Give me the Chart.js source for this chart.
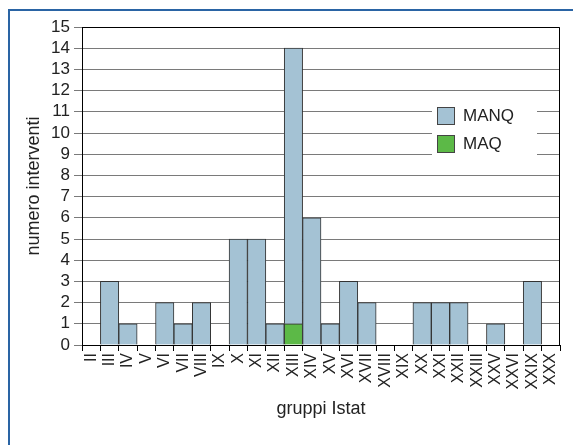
<!DOCTYPE html>
<html>
<head>
<meta charset="utf-8">
<script src="https://cdn.jsdelivr.net/npm/chart.js@4.4.1/dist/chart.umd.min.js"></script>
<style>
  html, body { margin: 0; padding: 0; background: #fff; }
  #wrap { position: relative; width: 573px; height: 445px; overflow: hidden; }
  #frame { position: absolute; left: 8px; top: 9px; width: 700px; height: 600px;
           border-left: 2px solid #2a64a4; border-top: 2px solid #2a64a4; }
  canvas { position: absolute; left: 0; top: 0; }
</style>
</head>
<body>
<div id="wrap">
  <div id="frame"></div>
  <canvas id="istatChart" width="573" height="445"></canvas>
</div>
<script>
// Istat groups on the x axis
const categories = ['II', 'III', 'IV', 'V', 'VI', 'VII', 'VIII', 'IX', 'X', 'XI', 'XII', 'XIII', 'XIV',
  'XV', 'XVI', 'XVII', 'XVIII', 'XIX', 'XX', 'XXI', 'XXII', 'XXIII', 'XXV', 'XXVI', 'XXIX', 'XXX'];

// number of interventions per series
const manq = [0, 3, 1, 0, 2, 1, 2, 0, 5, 5, 1, 13, 6, 1, 3, 2, 0, 0, 2, 2, 2, 0, 1, 0, 3, 0];
const maq  = [0, 0, 0, 0, 0, 0, 0, 0, 0, 0, 0, 1, 0, 0, 0, 0, 0, 0, 0, 0, 0, 0, 0, 0, 0, 0];

Chart.defaults.font.family = '"Liberation Sans", Arial, sans-serif';
Chart.defaults.color = '#222';

// legend drawn inside the plot, on a white patch over the grid
const insideLegend = {
  id: 'insideLegend',
  afterDatasetsDraw(chart) {
    const { ctx, chartArea } = chart;
    const x = chartArea.right - 128;
    const y = chartArea.top + 73;
    ctx.save();
    ctx.fillStyle = '#fff';
    ctx.fillRect(x, y, 105, 60);
    const items = chart.data.datasets.slice().reverse();
    items.forEach((ds, i) => {
      const by = y + 7 + i * 28;
      ctx.fillStyle = ds.backgroundColor;
      ctx.fillRect(x + 5, by, 17, 17);
      ctx.strokeStyle = '#444';
      ctx.lineWidth = 1;
      ctx.strokeRect(x + 5.5, by + 0.5, 17, 17);
      ctx.fillStyle = '#222';
      ctx.font = '17px "Liberation Sans", Arial, sans-serif';
      ctx.textBaseline = 'middle';
      ctx.fillText(ds.label, x + 31, by + 9);
    });
    ctx.restore();
  }
};

// black frame on top and right of the plot
const plotFrame = {
  id: 'plotFrame',
  beforeDatasetsDraw(chart) {
    const { ctx, chartArea } = chart;
    ctx.save();
    ctx.strokeStyle = '#000';
    ctx.lineWidth = 1;
    ctx.beginPath();
    ctx.moveTo(chartArea.left, chartArea.top + 0.5);
    ctx.lineTo(chartArea.right - 0.5, chartArea.top + 0.5);
    ctx.lineTo(chartArea.right - 0.5, chartArea.bottom);
    ctx.stroke();
    ctx.restore();
  }
};

const ctx = document.getElementById('istatChart').getContext('2d');

const istatChart = new Chart(ctx, {
  type: 'bar',
  data: {
    labels: categories,
    datasets: [
      {
        label: 'MAQ',
        data: maq,
        backgroundColor: '#5cb947',
        borderColor: '#333',
        borderWidth: 1
      },
      {
        label: 'MANQ',
        data: manq,
        backgroundColor: '#a4c2d4',
        borderColor: '#333',
        borderWidth: 1
      }
    ]
  },
  plugins: [plotFrame, insideLegend],
  options: {
    responsive: false,
    animation: false,
    layout: { padding: { top: 27, right: 13, left: 0, bottom: 0 } },
    datasets: {
      bar: { categoryPercentage: 1, barPercentage: 1 }
    },
    plugins: {
      legend: { display: false },
      tooltip: { enabled: false }
    },
    scales: {
      x: {
        stacked: true,
        offset: true,
        grid: { display: true, drawOnChartArea: false, offset: true, tickLength: 6, color: '#000' },
        border: { color: '#000' },
        ticks: { minRotation: 90, maxRotation: 90, autoSkip: false, padding: 2, font: { size: 16 } },
        title: { display: true, text: 'gruppi Istat', font: { size: 18 }, padding: { top: 0, bottom: 25 } },
        afterFit: (scale) => { scale.height = 100; }
      },
      y: {
        stacked: true,
        min: 0,
        max: 15,
        ticks: { stepSize: 1, autoSkip: false, padding: 4, font: { size: 17 } },
        grid: { color: '#7a7a7a', tickLength: 8 },
        border: { color: '#000' },
        title: { display: true, text: 'numero interventi', font: { size: 18 }, padding: { top: 23, bottom: 0 } },
        afterFit: (scale) => { scale.width = 82; }
      }
    }
  }
});
</script>
</body>
</html>
